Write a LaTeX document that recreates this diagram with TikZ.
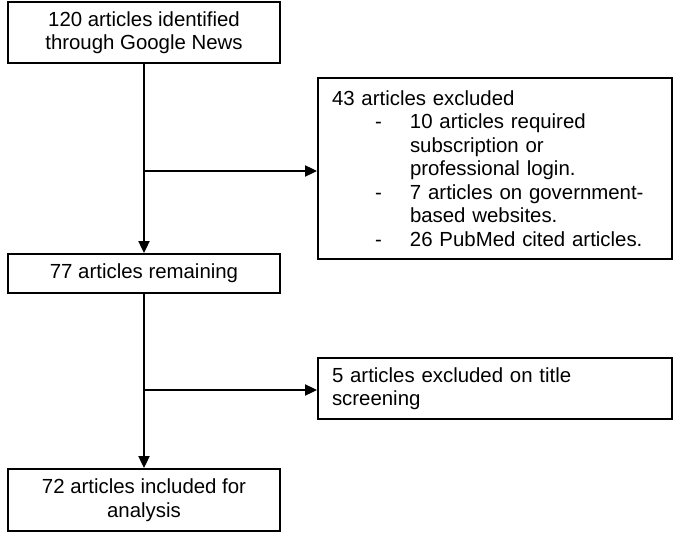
\documentclass[tikz,border=0pt]{standalone}
\usepackage{fontspec}
\setmainfont{Liberation Sans}
\usetikzlibrary{arrows.meta}
\newcommand{\itmline}[1]{\makebox[78bp][l]{\hspace*{43bp}-}#1}
\newcommand{\contline}[1]{\hspace*{78bp}#1}
\begin{document}
\begin{tikzpicture}[x=1bp,y=-1bp,
  every node/.style={font=\fontsize{20.4bp}{23.5bp}\selectfont},
  boxc/.style={draw, line width=1.8bp, inner sep=0pt, align=center},
  boxl/.style={draw, line width=1.8bp, inner sep=0pt, align=left},
  arr/.style={line width=1.8bp, -{Triangle[length=12bp,width=11bp]}},
  ln/.style={line width=1.8bp}]
\useasboundingbox (0,0) rectangle (680,540);
\node[boxc, minimum width=272bp, minimum height=61bp] (b1) at (144,32.5)
  {120 articles identified\\through Google News};
\node[boxl, minimum width=354bp, minimum height=181bp, text width=326bp] (b2) at (495,168.5)
  {43 articles excluded\\
   \itmline{10 articles required}\\
   \contline{subscription or}\\
   \contline{professional login.}\\
   \itmline{7 articles on government-}\\
   \contline{based websites.}\\
   \itmline{26 PubMed cited articles.}};
\node[boxc, minimum width=272bp, minimum height=39bp] (b3) at (144,273.5)
  {77 articles remaining};
\node[boxl, minimum width=354bp, minimum height=61bp, text width=326bp] (b4) at (495,388.5)
  {5 articles excluded on title\\screening};
\node[boxc, minimum width=272bp, minimum height=62bp] (b5) at (144,500)
  {72 articles included for\\analysis};
\coordinate (j1) at (144,171);
\coordinate (j2) at (144,390);
\draw[arr] (b1.south) -- (b3.north);
\draw[arr] (j1) -- (j1 -| b2.west);
\draw[arr] (b3.south) -- (b5.north);
\draw[arr] (j2) -- (j2 -| b4.west);
\end{tikzpicture}
\end{document}
